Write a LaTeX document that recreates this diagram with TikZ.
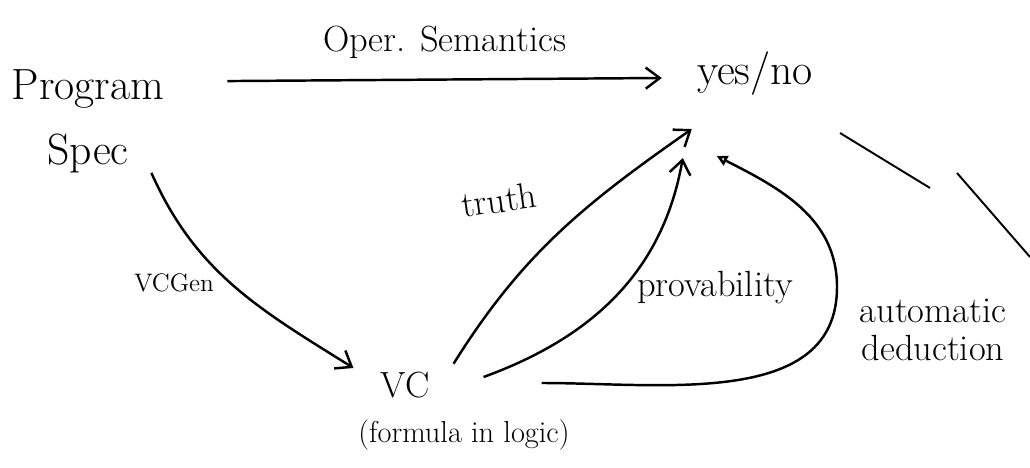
\documentclass[tikz,border=0pt]{standalone}
\usepackage{tikz}
\usetikzlibrary{arrows.meta,positioning,calc}

\begin{document}
\begin{tikzpicture}[x=0.02cm,y=0.02cm,
    line width=1.4pt,
    >={Straight Barb[length=8pt,width=12pt]},
    lbl/.style={inner sep=0pt,font=\huge}]
    \useasboundingbox (0,0) rectangle (1030,467);

    \node[lbl,align=center,font=\fontsize{24.88}{37}\selectfont] (prog) at (88,346) {Program\\Spec};
    \node[lbl,font=\Huge] (yesno) at (755,393) {yes/no};
    \node[lbl] (vc) at (405,82) {VC};
    \node[lbl,font=\LARGE] (formula) at (464,32) {(formula in logic)};

    \draw[->] ($(prog.north east)+(62,-13)$) -- ($(yesno.west)+(-34,-4)$)
        node[midway,above=0.4cm,lbl] (opsem) {Oper. Semantics};
    \draw[->] ($(prog.south east)+(-14,1)$) to[out=-66,in=148] ($(vc.west)+(-26,17)$);
    \node[lbl,font=\Large] (vcgen) at (174,184) {VCGen};

    \draw[->] ($(vc.north east)+(23,7)$) to[out=58,in=-145] ($(yesno.south west)+(-4,-32)$);
    \node[lbl,rotate=8] (truth) at (499,267) {truth};

    \draw[->] ($(vc.east)+(53,8)$) to[out=20,in=-100] ($(yesno.south west)+(-13,-61)$);
    \node[lbl] (prov) at (715,179) {provability};

    \draw[-{Triangle[open,length=6pt,width=6pt]}] ($(vc.east)+(111,2)$) to[out=0,in=-90] (837,180)
        to[out=90,in=-27] ($(yesno.south west)+(21,-59)$);
    \node[lbl,align=center,font=\fontsize{20.74}{22}\selectfont] (autoded) at (933,137) {automatic\\deduction};

    % loose strokes at the right edge
    \draw[line width=1.1pt] (840,334) -- (930,279);
    \draw[line width=1.1pt] (957,294) -- (1030,210);
\end{tikzpicture}
\end{document}
